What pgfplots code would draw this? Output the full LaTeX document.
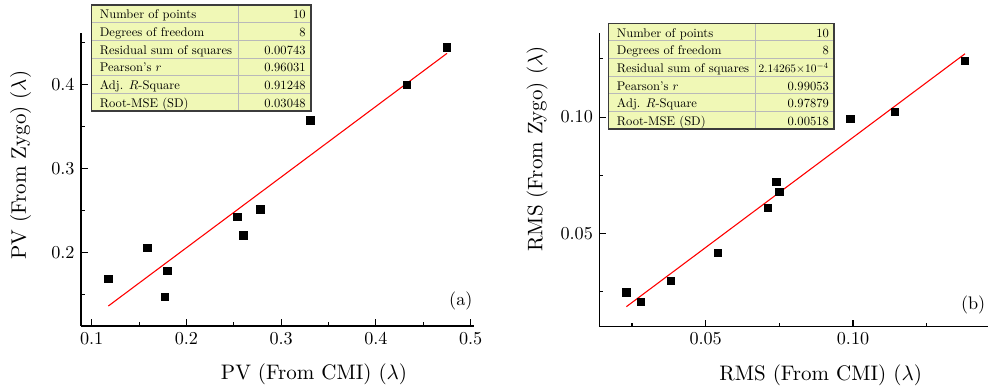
\documentclass[border=0pt]{standalone}
\usepackage{pgfplots}
\pgfplotsset{compat=1.18}
\definecolor{tabfill}{RGB}{240,248,182}
\definecolor{tabgrid}{RGB}{185,185,185}
\definecolor{tabframe}{RGB}{60,60,60}
\pgfplotsset{
  mystyle/.style={
    anchor=south west, scale only axis, clip=false,
    axis lines*=left,
    axis line style={line width=0.7pt},
    tick align=inside,
    major tick length=3.8pt, minor tick length=2.2pt,
    every tick/.style={black, line width=0.6pt},
    tick label style={font=\normalsize},
    label style={font=\normalsize, scale=1.155},
  }
}
\newcommand{\stattable}[5]{% L R C T B
  \pgfmathsetmacro{\rh}{(#4-#5)/6}
  \fill[tabfill] (#1pt,#5pt) rectangle (#2pt,#4pt);
  \foreach \k in {1,...,5}{%
    \pgfmathsetmacro{\yk}{#4-\k*\rh}
    \draw[tabgrid, line width=0.5pt] (#1pt,\yk pt) -- (#2pt,\yk pt);}
  \draw[tabgrid, line width=0.5pt] (#3pt,#5pt) -- (#3pt,#4pt);
  \draw[tabframe, line width=0.8pt] (#1pt,#5pt) rectangle (#2pt,#4pt);
}
\tikzset{tabtxt/.style={inner sep=0pt, font=\normalsize, scale=0.69}}
\begin{document}
\begin{tikzpicture}
\useasboundingbox (0,0) rectangle (543.4pt,215.6pt);
% ---------------- (a)
\begin{axis}[mystyle,
  at={(44.55pt,36.3pt)}, width=216.15pt, height=161.15pt,
  xmin=0.0887, xmax=0.5035, ymin=0.113, ymax=0.461,
  xtick={0.1,0.2,0.3,0.4,0.5}, ytick={0.2,0.3,0.4},
  minor xtick={0.15,0.25,0.35,0.45}, minor ytick={0.15,0.25,0.35,0.45},
  xticklabel style={/pgf/number format/.cd, fixed, fixed zerofill, precision=1},
  yticklabel style={/pgf/number format/.cd, fixed, fixed zerofill, precision=1},
  xlabel={PV (From CMI) ($\lambda$)},
  ylabel={PV (From Zygo) ($\lambda$)},
  xlabel style={at={(axis description cs:0.593,-0.184)}, anchor=base},
  ylabel style={at={(axis description cs:-0.14,0.549)}, anchor=base},
]
\addplot[red, line width=0.6pt, no marks] coordinates {(0.1175,0.1367) (0.475,0.4368)};
\addplot[only marks, mark=square*, mark size=2pt, black] coordinates {
(0.1175,0.1688) (0.1587,0.2056) (0.1798,0.1786) (0.1774,0.1477) (0.2537,0.2424)
(0.2600,0.2206) (0.2780,0.2515) (0.3307,0.3572) (0.4328,0.3996) (0.4750,0.4440)};
\node[anchor=east, inner sep=0pt] at (rel axis cs:0.997,0.087) {(a)};
\end{axis}
% ---------------- (b)
\begin{axis}[mystyle,
  at={(329.6pt,35.9pt)}, width=213.8pt, height=161.4pt,
  xmin=0.0139, xmax=0.1458, ymin=0.010, ymax=0.136,
  xtick={0.05,0.10}, ytick={0.05,0.10},
  minor xtick={0.025,0.075,0.125}, minor ytick={0.025,0.075,0.125},
  xticklabel style={/pgf/number format/.cd, fixed, fixed zerofill, precision=2},
  yticklabel style={/pgf/number format/.cd, fixed, fixed zerofill, precision=2},
  xlabel={RMS (From CMI) ($\lambda$)},
  ylabel={RMS (From Zygo) ($\lambda$)},
  xlabel style={at={(axis description cs:0.5696,-0.1817)}, anchor=base},
  ylabel style={at={(axis description cs:-0.1466,0.6057)}, anchor=base},
]
\addplot[red, line width=0.6pt, no marks] coordinates {(0.0231,0.0186) (0.1380,0.1272)};
\addplot[only marks, mark=square*, mark size=2pt, black] coordinates {
(0.0231,0.0248) (0.0281,0.0206) (0.0381,0.0296) (0.0542,0.0418) (0.0710,0.0609)
(0.0750,0.0680) (0.0740,0.0721) (0.0991,0.0991) (0.1141,0.1021) (0.1380,0.1243)};
\node[anchor=east, inner sep=0pt] at (rel axis cs:0.994,0.075) {(b)};
\end{axis}
% ---------------- tables
\stattable{50.4}{171.05}{131.1}{212.85}{154.55}
\foreach \i/\a/\b in {1/Number of points/10, 2/Degrees of freedom/8, 3/Residual sum of squares/0.00743, 4/Pearson's $r$/0.96031, 5/Adj. $R$-Square/0.91248, 6/Root-MSE (SD)/0.03048}{
  \pgfmathsetmacro{\yy}{212.85-(\i-0.5)*9.717-2.8}
  \node[tabtxt, anchor=base west] at (54.8pt,\yy pt) {\a};
  \node[tabtxt, anchor=base east] at (168.2pt,\yy pt) {\b};
}
\stattable{334.8}{458.7}{415.6}{202.8}{144.65}
\foreach \i/\a/\b in {1/Number of points/10, 2/Degrees of freedom/8, 3/Residual sum of squares/{}, 4/Pearson's $r$/0.99053, 5/Adj. $R$-Square/0.97879, 6/Root-MSE (SD)/0.00518}{
  \pgfmathsetmacro{\yy}{202.8-(\i-0.5)*9.692-2.8}
  \node[tabtxt, anchor=base west] at (339.2pt,\yy pt) {\a};
  \node[tabtxt, anchor=base east] at (456.0pt,\yy pt) {\b};
}
\node[inner sep=0pt, font=\normalsize, scale=0.63, anchor=base east] at (456.0pt,175.77pt) {2.14265$\times10^{-4}$};
\end{tikzpicture}
\end{document}
